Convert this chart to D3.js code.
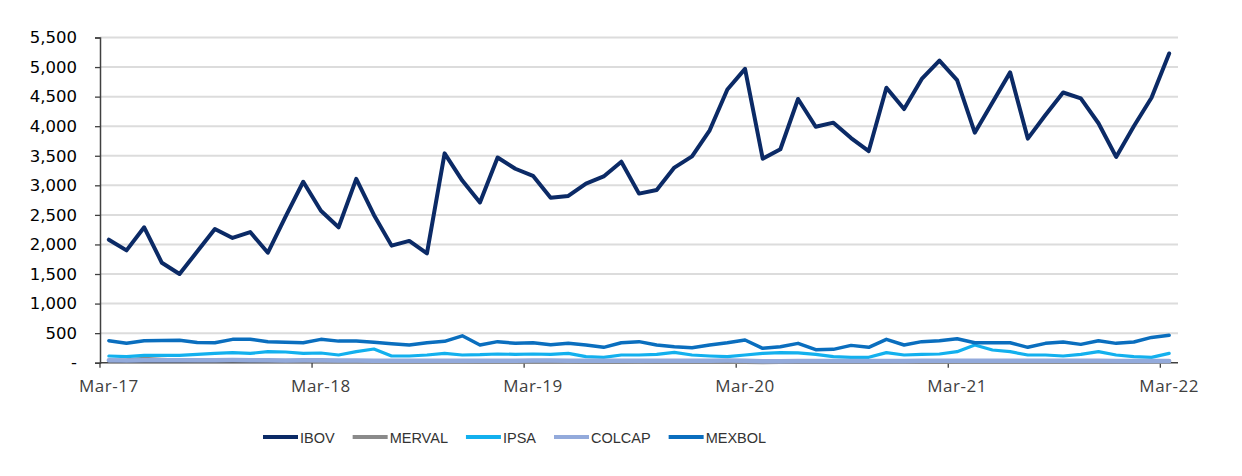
<!DOCTYPE html>
<html>
<head>
<meta charset="utf-8">
<script src="https://cdn.jsdelivr.net/npm/d3@7"></script>
<style>
  body { margin: 0; background: #fff; }
  svg { display: block; }
</style>
</head>
<body>
<div id="grafico"></div>
<script>
// monthly categories Mar-17 .. Mar-22 (61 points)
const months = d3.timeMonth.range(new Date(2017, 2, 1), new Date(2022, 3, 1));
const tickLabels = ["Mar-17", "Mar-18", "Mar-19", "Mar-20", "Mar-21", "Mar-22"];
const yTicks = [0, 500, 1000, 1500, 2000, 2500, 3000, 3500, 4000, 4500, 5000, 5500];

const IBOV = [2080, 1900, 2290, 1690, 1500, 1880, 2260, 2110, 2210, 1860,
  2470, 3060, 2570, 2290, 3110, 2500, 1980, 2060, 1850, 3540,
  3080, 2710, 3470, 3280, 3160, 2790, 2820, 3030, 3150, 3400,
  2860, 2920, 3300, 3490, 3930, 4620, 4970, 3450, 3610, 4460,
  3990, 4060, 3800, 3580, 4650, 4290, 4800, 5110, 4780, 3890,
  4400, 4910, 3790, 4190, 4570, 4470, 4050, 3480, 4000, 4480, 5230];

const MERVAL = [35, 45, 70, 55, 40, 38, 36, 38, 40, 35,
  30, 28, 25, 22, 20, 18, 15, 15, 14, 14,
  15, 13, 12, 12, 13, 12, 10, 8, 8, 9,
  10, 9, 8, 7, 8, 8, 7, 5, 6, 7,
  7, 8, 8, 8, 9, 10, 9, 9, 10, 11,
  10, 10, 11, 10, 11, 10, 10, 9, 9, 10, 11];

const IPSA = [113, 102, 125, 125, 125, 141, 158, 170, 158, 187,
  181, 158, 164, 130, 187, 232, 113, 113, 130, 158,
  130, 135, 147, 141, 147, 141, 158, 102, 91, 130,
  130, 141, 175, 130, 113, 102, 130, 158, 170, 165,
  141, 102, 91, 91, 170, 130, 141, 147, 187, 300,
  215, 187, 130, 130, 113, 141, 187, 130, 102, 91, 158];

const COLCAP = [40, 38, 42, 40, 40, 42, 42, 44, 42, 40,
  38, 40, 40, 38, 36, 35, 34, 34, 32, 34,
  35, 34, 34, 35, 36, 36, 35, 34, 32, 34,
  34, 34, 32, 32, 34, 36, 35, 24, 26, 28,
  28, 30, 30, 28, 30, 30, 32, 34, 32, 34,
  32, 32, 34, 34, 32, 32, 32, 30, 30, 30, 30];

const MEXBOL = [372, 328, 372, 375, 380, 340, 338, 395, 395, 356,
  345, 338, 395, 365, 365, 345, 320, 299, 338, 361,
  455, 299, 356, 327, 338, 305, 327, 299, 260, 338,
  356, 299, 271, 254, 299, 338, 384, 243, 271, 327,
  220, 226, 293, 260, 395, 299, 356, 372, 406, 338,
  338, 338, 260, 327, 350, 310, 372, 327, 350, 428, 463];

const seriesNames = ["IBOV", "MERVAL", "IPSA", "COLCAP", "MEXBOL"];
const seriesData = [IBOV, MERVAL, IPSA, COLCAP, MEXBOL];
const colors = ["#0B2A66", "#8A8A8A", "#12B0EE", "#93AADB", "#0A6EBE"];
const widths = [4, 3.5, 3.2, 4.5, 3.5];

const width = 1242;
const height = 476;
const margin = { top: 37.5, right: 64, bottom: 113.3, left: 100 };

const fmtMonth = d3.timeFormat("%b-%y");

const svg = d3.select("#grafico")
  .append("svg")
  .attr("width", width)
  .attr("height", height);

const x = d3.scaleBand()
  .domain(months.map((d, i) => i))
  .range([margin.left, width - margin.right])
  .padding(0);

const y = d3.scaleLinear()
  .domain([0, 5500])
  .range([height - margin.bottom, margin.top]);

// Grid
svg.append("g")
  .selectAll("line")
  .data(yTicks.filter((d) => d > 0))
  .join("line")
  .attr("x1", margin.left)
  .attr("x2", width - margin.right)
  .attr("y1", (d) => y(d))
  .attr("y2", (d) => y(d))
  .attr("stroke", "#DCDCDC")
  .attr("stroke-width", 2);

// Eje Y
const yAxis = svg.append("g")
  .attr("transform", `translate(${margin.left},0)`)
  .call(d3.axisLeft(y)
    .tickValues(yTicks)
    .tickSize(5)
    .tickPadding(18)
    .tickFormat((d) => (d === 0 ? "-" : d3.format(",")(d))));
yAxis.select(".domain").attr("stroke", "#404040").attr("stroke-width", 1.5);
yAxis.selectAll(".tick line").attr("stroke", "#404040").attr("stroke-width", 1.3);
yAxis.selectAll("text")
  .attr("fill", "#000")
  .style("font-family", "'DejaVu Sans'")
  .style("font-size", "16.5px");

// Eje X
const xAxis = svg.append("g")
  .attr("transform", `translate(0,${y(0)})`);
xAxis.append("line")
  .attr("x1", margin.left)
  .attr("x2", width - margin.right)
  .attr("stroke", "#404040")
  .attr("stroke-width", 1.5);

const labelled = months
  .map((d, i) => ({ i, label: fmtMonth(d) }))
  .filter((d) => tickLabels.includes(d.label));

xAxis.selectAll(".tk")
  .data(labelled)
  .join("line")
  .attr("class", "tk")
  .attr("x1", (d) => x(d.i))
  .attr("x2", (d) => x(d.i))
  .attr("y1", 0)
  .attr("y2", 5)
  .attr("stroke", "#404040")
  .attr("stroke-width", 1.3);

xAxis.selectAll("text")
  .data(labelled)
  .join("text")
  .attr("x", (d) => x(d.i) + x.bandwidth() / 2)
  .attr("y", 29)
  .attr("text-anchor", "middle")
  .attr("fill", "#404040")
  .style("font-family", "'Open Sans'")
  .style("font-size", "17px")
  .style("letter-spacing", "0.5px")
  .text((d) => d.label);

// Lineas
const line = d3.line()
  .x((d, i) => x(i) + x.bandwidth() / 2)
  .y((d) => y(d));

svg.append("g")
  .selectAll("path")
  .data(seriesData)
  .join("path")
  .attr("d", (d) => line(d))
  .attr("fill", "none")
  .attr("stroke", (d, i) => colors[i])
  .attr("stroke-width", (d, i) => widths[i])
  .attr("stroke-linejoin", "round")
  .attr("stroke-linecap", "round");

// Leyenda
const legend = svg.append("g")
  .attr("transform", `translate(263, 437)`);

let offset = 0;
seriesNames.forEach((name, i) => {
  const g = legend.append("g").attr("transform", `translate(${offset},0)`);
  g.append("line")
    .attr("x1", 0)
    .attr("x2", 35)
    .attr("stroke", colors[i])
    .attr("stroke-width", 4);
  const t = g.append("text")
    .attr("x", 37)
    .attr("y", 5.5)
    .attr("fill", "#333")
    .style("font-family", "'Liberation Sans', Arial")
    .style("font-size", "14.5px")
    .text(name);
  offset += 37 + t.node().getComputedTextLength() + 18;
});
</script>
</body>
</html>
